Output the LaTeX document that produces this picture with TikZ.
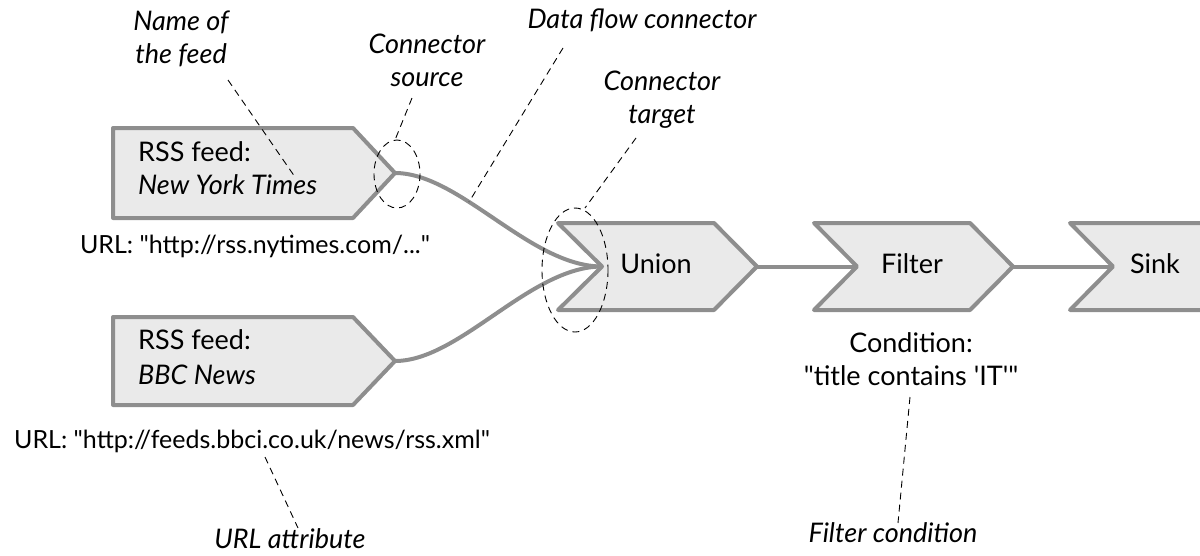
\documentclass[tikz,border=0pt]{standalone}
\usepackage{fontspec}
\setmainfont{Lato}
\definecolor{blockgray}{HTML}{8E8E8E}
\definecolor{blockfill}{HTML}{EAEAEA}
\begin{document}
\begin{tikzpicture}[x=1pt,y=-1pt,
  block/.style={draw=blockgray, fill=blockfill, line width=4pt, line join=round},
  flow/.style={draw=blockgray, line width=4pt},
  note/.style={draw=black, line width=0.9pt, dash pattern=on 7pt off 5pt},
  txt/.style={font=\fontsize{27}{33}\selectfont, inner sep=0pt},
  urltxt/.style={font=\fontsize{25}{33}\selectfont, inner sep=0pt},
  itxt/.style={font=\fontsize{27}{33}\selectfont\itshape, inner sep=0pt, align=center}]
\useasboundingbox (0,0) rectangle (1200,555);
\clip (0,0) rectangle (1200,555);

% source blocks
\draw[block] (113,128) -- (353,128) -- (395,173) -- (353,218) -- (113,218) -- cycle;
\coordinate (nyt) at (395,173);
\draw[block] (113,317) -- (353,317) -- (395,361) -- (353,405) -- (113,405) -- cycle;
\coordinate (bbc) at (395,361);

% processing blocks
\draw[block] (558,223) -- (714,223) -- (757,266.5) -- (714,310) -- (558,310) -- (602,266.5) -- cycle;
\coordinate (unionin) at (602,266.5);
\coordinate (unionout) at (757,266.5);
\draw[block] (814,223) -- (970,223) -- (1013,266.5) -- (970,310) -- (814,310) -- (857,266.5) -- cycle;
\coordinate (filterin) at (857,266.5);
\coordinate (filterout) at (1013,266.5);
\draw[block] (1070,223) -- (1226,223) -- (1269,266.5) -- (1226,310) -- (1070,310) -- (1113,266.5) -- cycle;
\coordinate (sinkin) at (1113,266.5);

% connectors
\draw[flow] (nyt) .. controls (460,173) and (530,266.5) .. (unionin);
\draw[flow] (bbc) .. controls (460,361) and (530,266.5) .. (unionin);
\draw[flow] (unionout) -- (filterin);
\draw[flow] (filterout) -- (sinkin);

% block texts
\node[txt, anchor=base west] (nyt1) at (138,161) {RSS feed:};
\node[txt, anchor=base west] (nyt2) at (138,194) {\itshape New York Times};
\node[txt, anchor=base west] (bbc1) at (138,349) {RSS feed:};
\node[txt, anchor=base west] (bbc2) at (138,384) {\itshape BBC News};
\node[txt, anchor=base] (union) at (656,273) {Union};
\node[txt, anchor=base] (filter) at (912,273) {Filter};
\node[txt, anchor=base] (sink) at (1155,273) {Sink};

% attribute texts
\node[urltxt, anchor=base] (url1) at (255,253) {URL: \textquotedbl http://rss.nytimes.com/...\textquotedbl};
\node[urltxt, anchor=base] (url2) at (252,448) {URL: \textquotedbl http://feeds.bbci.co.uk/news/rss.xml\textquotedbl};
\node[txt, anchor=base] (cond1) at (911,352) {Condition:};
\node[txt, anchor=base] (cond2) at (911,385) {\textquotedbl title contains \textquotesingle IT\textquotesingle\textquotedbl};

% annotations (anchor = baseline of the last line)
\node[itxt, anchor=base] (aname) at (181,63) {Name of\\the feed};
\node[itxt, anchor=base] (asrc) at (427,86) {Connector\\source};
\node[itxt, anchor=base] (aflow) at (642,28) {Data flow connector};
\node[itxt, anchor=base] (atgt) at (662,123) {Connector\\target};
\node[itxt, anchor=base] (aurl) at (290,548) {URL attribute};
\node[itxt, anchor=base] (afilt) at (893,542) {Filter condition};

% highlight ellipses
\draw[note] (397,174) ellipse [x radius=23, y radius=34];
\coordinate (srctop) at (395,140);
\draw[note] (575,270) ellipse [x radius=33, y radius=62];
\coordinate (tgttop) at (585,208);

% annotation leaders
\coordinate (namept) at (295,177);
\coordinate (flowpt) at (469,202);
\coordinate (urlpt) at (298,528);
\coordinate (filtpt) at (898,523);
\draw[note] (228,80) -- (namept);
\draw[note] (412,98) -- (srctop);
\draw[note] (563,48) -- (flowpt);
\draw[note] (636,138) -- (tgttop);
\draw[note] (265,457) -- (urlpt);
\draw[note] (910,397) -- (filtpt);
\end{tikzpicture}
\end{document}
